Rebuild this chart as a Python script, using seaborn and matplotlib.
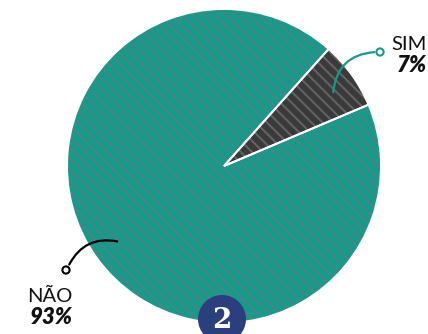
import matplotlib
matplotlib.use("Agg")
import matplotlib.pyplot as plt
import seaborn as sns
from matplotlib.patches import Circle, FancyArrowPatch

labels = ["SIM", "NÃO"]
values = [7, 93]
pct_labels = ["7%", "93%"]
colors = ["#3a3a3a", "#149b8b"]
stripe_colors = ["#626262", "#4b8582"]
badge_text = "2"

sns.set_theme(style="white")
plt.rcParams["font.family"] = ["Lato", "DejaVu Sans"]
plt.rcParams["hatch.linewidth"] = 1.5

W, H = 428, 334
fig = plt.figure(figsize=(W / 100, H / 100), dpi=100)
ax = fig.add_axes([0, 0, 1, 1])

cx, cy, r = 224, H - 166, 157
start = 23.0
common = dict(startangle=start, counterclock=True, center=(cx, cy), radius=r)
ax.pie(values, colors=colors, wedgeprops=dict(linewidth=0), **common)
hw, _ = ax.pie(values, colors=["none", "none"], wedgeprops=dict(linewidth=0, hatch="\\\\\\"), **common)
for w, sc in zip(hw, stripe_colors):
    w.set_edgecolor(sc)
    w.set_facecolor("none")
ew, _ = ax.pie(values, colors=["none", "none"], wedgeprops=dict(linewidth=1.4), **common)
for w in ew:
    w.set_edgecolor("white")
    w.set_facecolor("none")

ax.set_xlim(0, W)
ax.set_ylim(0, H)
ax.set_aspect("equal")
ax.axis("off")

# connectors
a1 = FancyArrowPatch((333, H - 95), (377, H - 52), connectionstyle="arc3,rad=-0.45",
                     arrowstyle="-", color="#17998b", lw=1.6, zorder=5)
ax.add_patch(a1)
ax.add_patch(Circle((380, H - 52), 3.6, facecolor="white", edgecolor="#17998b", lw=1.5, zorder=6))
a2 = FancyArrowPatch((120, H - 242), (68, H - 267), connectionstyle="arc3,rad=0.4",
                     arrowstyle="-", color="black", lw=1.6, zorder=5)
ax.add_patch(a2)
ax.add_patch(Circle((66, H - 270), 3.6, facecolor="white", edgecolor="black", lw=1.5, zorder=6))

# labels
ax.text(427, H - 44, labels[0], fontsize=14.5, color="#111111", ha="right", va="center")
ax.text(427, H - 65, pct_labels[0], fontsize=16, fontweight="heavy", fontstyle="italic",
        color="#111111", ha="right", va="center")
ax.text(73, H - 296, labels[1], fontsize=14.5, color="#111111", ha="right", va="center")
ax.text(73, H - 318, pct_labels[1], fontsize=16, fontweight="heavy", fontstyle="italic",
        color="#111111", ha="right", va="center")

# badge
ax.add_patch(Circle((222, H - 319), 24, facecolor="#2b3f7e", edgecolor="none", zorder=7))
ax.text(222, H - 321, badge_text, fontsize=20, fontweight="bold", family=["DejaVu Serif"],
        color="white", ha="center", va="center", zorder=8)

fig.savefig("out.png", dpi=100)
